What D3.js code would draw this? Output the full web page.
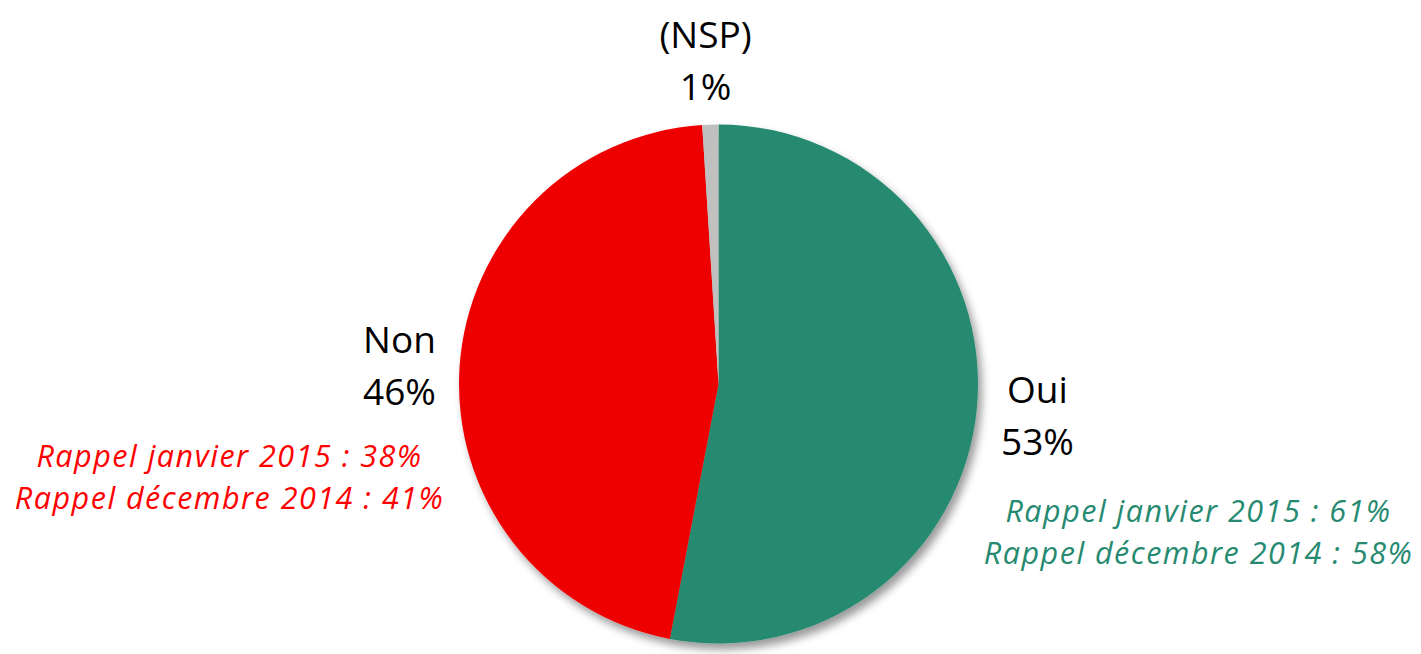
<!DOCTYPE html>
<html>
<head>
<meta charset="utf-8">
<script src="https://cdn.jsdelivr.net/npm/d3@7"></script>
<style>
  body { margin: 0; background: #fff; }
  svg { display: block; font-family: "Open Sans", sans-serif; }
</style>
</head>
<body>
<svg id="chart"></svg>
<script>
const width = 1421, height = 654;

// Data
const categories = ["Oui", "Non", "(NSP)"];
const values = [53, 46, 1];
const colors = ["#268A71", "#EE0000", "#C0C0C0"];
const recallLabels = [
    ["Rappel janvier 2015 : 61%", "Rappel décembre 2014 : 58%"],
    ["Rappel janvier 2015 : 38%", "Rappel décembre 2014 : 41%"],
    []
];
const recallColors = ["#268A71", "#FF0000", "#000"];

// Layout
const cx = 718.5, cy = 384, radius = 259.5;
// label anchor offsets from pie center (x center, first baseline)
const labelOffsets = [[319, 19], [-319, -31], [-13, -336]];
const recallOffsets = [[480, 138], [-489, 83], [0, 0]];

const svg = d3.select("#chart")
    .attr("width", width)
    .attr("height", height)
    .attr("viewBox", [0, 0, width, height]);

const defs = svg.append("defs");
const filter = defs.append("filter")
    .attr("id", "shadow")
    .attr("x", "-10%").attr("y", "-10%")
    .attr("width", "125%").attr("height", "125%");
filter.append("feDropShadow")
    .attr("dx", 4).attr("dy", 6)
    .attr("stdDeviation", 4.5)
    .attr("flood-color", "#000")
    .attr("flood-opacity", 0.4);

const pie = d3.pie().sort(null).value(d => d)(values);
const arc = d3.arc().innerRadius(0).outerRadius(radius);

const g = svg.append("g")
    .attr("transform", `translate(${cx},${cy})`);

g.append("g")
    .attr("filter", "url(#shadow)")
    .selectAll("path")
    .data(pie)
    .enter()
    .append("path")
    .attr("d", arc)
    .attr("fill", (d, i) => colors[i]);

// Category labels
const labels = g.append("g").attr("font-size", 37).attr("fill", "#000");
categories.forEach((c, i) => {
    const [lx, ly] = labelOffsets[i];
    const t = labels.append("text")
        .attr("text-anchor", "middle")
        .attr("x", lx).attr("y", ly);
    t.append("tspan").attr("x", lx).text(c);
    t.append("tspan").attr("x", lx).attr("dy", 52).text(values[i] + "%");
});

// Recall lines
const recall = g.append("g")
    .attr("font-size", 30.5)
    .attr("letter-spacing", 1.5)
    .attr("font-style", "italic");
recallLabels.forEach((lines, i) => {
    const [rx, ry] = recallOffsets[i];
    lines.forEach((line, j) => {
        recall.append("text")
            .attr("text-anchor", "middle")
            .attr("x", rx)
            .attr("y", ry + j * 42)
            .attr("fill", recallColors[i])
            .text(line);
    });
});
</script>
</body>
</html>
